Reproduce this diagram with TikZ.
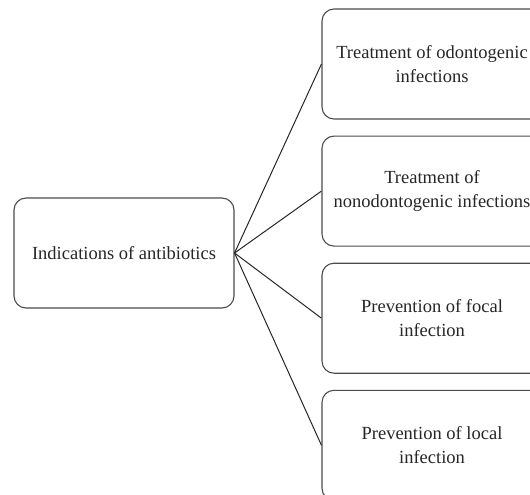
\documentclass[tikz,border=0pt]{standalone}
\usepackage{fontspec}
\setmainfont{Liberation Serif}
\usetikzlibrary{positioning}

\begin{document}
\begin{tikzpicture}[
  x=1pt, y=-1pt,
  font=\fontsize{18.5}{24}\selectfont,
  box/.style={draw=black!70, line width=1.1pt, rectangle, rounded corners=12pt, minimum width=220pt, minimum height=110pt, align=center, inner sep=3pt, text=black!85},
  link/.style={draw=black!85, line width=1pt},
  node distance=16pt
]
\useasboundingbox (0,0) rectangle (530,495);
\node[box] (ind) at (124,253) {Indications of antibiotics};
\node[box] (odo) at (432,64) {Treatment of odontogenic\\infections};
\node[box, below=of odo] (nonodo) {Treatment of\\nonodontogenic infections};
\node[box, below=of nonodo] (focal) {Prevention of focal\\infection};
\node[box, below=of focal] (local) {Prevention of local\\infection};

\draw[link] (ind.east) -- (odo.west);
\draw[link] (ind.east) -- (nonodo.west);
\draw[link] (ind.east) -- (focal.west);
\draw[link] (ind.east) -- (local.west);
\end{tikzpicture}
\end{document}
